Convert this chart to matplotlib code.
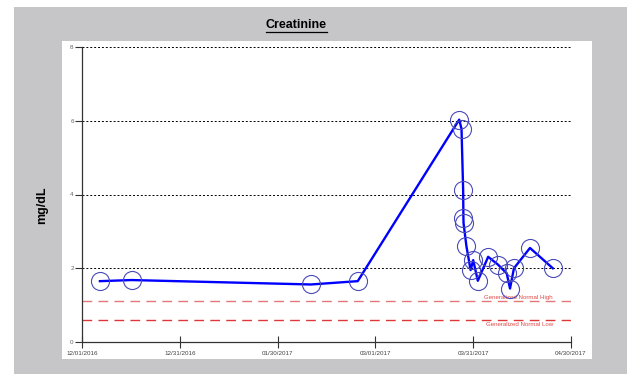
import pandas as pd
import matplotlib
matplotlib.use('Agg')
import matplotlib.pyplot as plt
import matplotlib.dates as mdates
from matplotlib.lines import Line2D

plt.rcParams['font.family'] = ['Liberation Sans', 'DejaVu Sans']

# creatinine results
dates = ['2016-12-06 12:00', '2016-12-16 05:00', '2017-02-09 05:00', '2017-02-23 14:00',
         '2017-03-26 17:00', '2017-03-27 10:00', '2017-03-27 22:00', '2017-03-28 00:00',
         '2017-03-28 01:00', '2017-03-28 22:00', '2017-03-30 05:00', '2017-03-31 00:00',
         '2017-04-01 10:00', '2017-04-04 14:00', '2017-04-07 14:00', '2017-04-10 07:00',
         '2017-04-11 07:00', '2017-04-12 12:00', '2017-04-17 10:00', '2017-04-24 10:00']
values = [1.65, 1.68, 1.56, 1.65, 6.03, 5.78, 4.12, 3.36, 3.22, 2.6,
          1.95, 2.22, 1.66, 2.31, 2.1, 1.86, 1.45, 2.0, 2.55, 2.0]

normal_high = 1.1
normal_low = 0.6
tick_dates = ['2016-12-01', '2016-12-31', '2017-01-30', '2017-03-01', '2017-03-31', '2017-04-30']
y_ticks = [0, 2, 4, 6, 8]

df = pd.DataFrame({'date': pd.to_datetime(dates), 'value': values})
ticks = pd.to_datetime(tick_dates)

W, H = 627, 374
fig = plt.figure(figsize=(W / 100, H / 100), dpi=100)
fig.patch.set_facecolor('white')

# gray frame and white panel
fig.add_artist(plt.Rectangle((14 / W, 0), 1 - 14 / W, 1 - 7 / H, transform=fig.transFigure,
                             facecolor='#c6c5c7', edgecolor='none', zorder=-10))
fig.add_artist(plt.Rectangle((62 / W, 1 - 359 / H), 530 / W, 318 / H, transform=fig.transFigure,
                             facecolor='white', edgecolor='none', zorder=-9))

ax = fig.add_axes([82 / W, 1 - 342 / H, 489 / W, 295 / H])
ax.patch.set_alpha(0)

for y in y_ticks[1:]:
    ax.axhline(y, color='black', linewidth=0.7, linestyle=(0, (2, 2)), zorder=1)

ax.axhline(normal_high, color='#e47878', linewidth=1.0, linestyle=(0, (7, 4.5)), zorder=2)
ax.axhline(normal_low, color='#dd3838', linewidth=1.0, linestyle=(0, (7, 4.5)), zorder=2)
ax.text(pd.Timestamp('2017-04-24 12:00'), normal_high + 0.05, 'Generalized Normal High',
        color='#e04848', fontsize=4.4, ha='right', va='bottom')
ax.text(pd.Timestamp('2017-04-24 12:00'), normal_low - 0.06, 'Generalized Normal Low',
        color='#e04848', fontsize=4.4, ha='right', va='top')

ax.plot(df['date'], df['value'], color='#0000ff', linewidth=1.7, zorder=4)
ax.plot(df['date'], df['value'], linestyle='none', marker='o', markersize=13,
        markerfacecolor='none', markeredgecolor='#4a4ab8', markeredgewidth=0.8, zorder=5)

ax.set_xlim(ticks[0], ticks[-1])
ax.set_ylim(0, 8)
ax.set_xticks(ticks)
ax.xaxis.set_major_formatter(mdates.DateFormatter('%m/%d/%Y'))
ax.set_yticks(y_ticks)

ax.tick_params(axis='x', direction='inout', length=9, width=0.8, color='#333333',
               labelsize=4.5, labelcolor='#444444', pad=2)
ax.tick_params(axis='y', direction='out', length=5, width=0.8, color='#333333',
               labelsize=4.5, labelcolor='#666666', pad=1)

for s in ['top', 'right']:
    ax.spines[s].set_visible(False)
for s in ['left', 'bottom']:
    ax.spines[s].set_color('#333333')
    ax.spines[s].set_linewidth(0.9)

fig.text(42 / W, 1 - 205 / H, 'mg/dL', rotation=90, fontsize=9, fontweight='bold',
         ha='center', va='center')

title = fig.text(296 / W, 1 - 25 / H, 'Creatinine', fontsize=9, fontweight='bold',
                 ha='center', va='center')
fig.canvas.draw()
bb = title.get_window_extent().transformed(fig.transFigure.inverted())
fig.add_artist(Line2D([bb.x0, bb.x1], [bb.y0 - 1 / H, bb.y0 - 1 / H], color='black',
                      linewidth=0.9, transform=fig.transFigure))

fig.savefig('out.png', dpi=100)
